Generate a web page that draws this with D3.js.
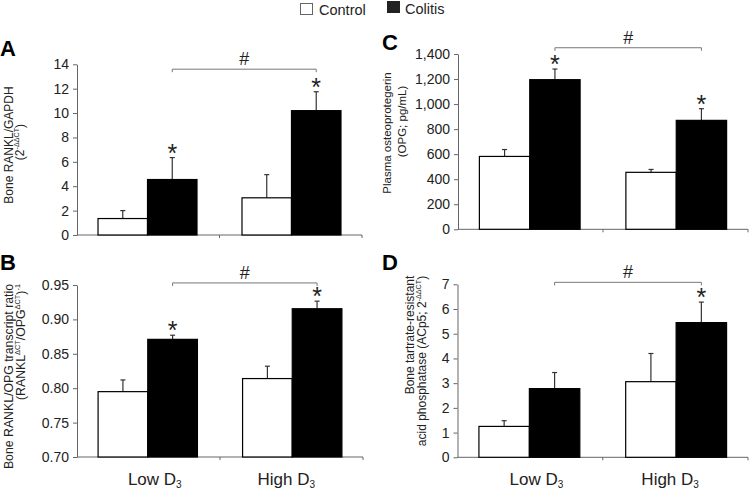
<!DOCTYPE html>
<html>
<head>
<meta charset="utf-8">
<script src="https://cdn.jsdelivr.net/npm/d3@7"></script>
<style>
  html, body { margin: 0; padding: 0; background: #fff; }
  svg { display: block; font-family: "Liberation Sans", Arial, Helvetica, sans-serif; }
</style>
</head>
<body>
<svg id="chart" width="750" height="490"></svg>
<script>
// ---------------- DATA ----------------
const groups = ["Low D3", "High D3"];
const seriesNames = ["Control", "Colitis"];

// Panel A: Bone RANKL/GAPDH (2^-ΔΔCT)
const ranklControl = [1.35, 3.05];
const ranklControlSem = [0.65, 1.9];
const ranklColitis = [4.55, 10.2];
const ranklColitisSem = [1.8, 1.55];
const ticksA = [0, 2, 4, 6, 8, 10, 12, 14];

// Panel B: Bone RANKL/OPG transcript ratio
const ratioControl = [0.795, 0.814];
const ratioControlSem = [0.017, 0.018];
const ratioColitis = [0.871, 0.9155];
const ratioColitisSem = [0.006, 0.011];
const ticksB = [0.70, 0.75, 0.80, 0.85, 0.90, 0.95];

// Panel C: Plasma osteoprotegerin (pg/mL)
const opgControl = [582, 455];
const opgControlSem = [55, 23];
const opgColitis = [1195, 870];
const opgColitisSem = [85, 93];
const ticksC = [0, 200, 400, 600, 800, 1000, 1200, 1400];

// Panel D: Bone TRAP (ACp5; 2^-ΔΔCT)
const acp5Control = [1.25, 3.06];
const acp5ControlSem = [0.23, 1.14];
const acp5Colitis = [2.78, 5.45];
const acp5ColitisSem = [0.65, 0.83];
const ticksD = [0, 1, 2, 3, 4, 5, 6, 7];

// significance markers (* on colitis bars per group)
const starsA = [true, true];
const starsB = [true, true];
const starsC = [true, true];
const starsD = [false, true];

// ---------------- LAYOUT ----------------
const svg = d3.select("#chart");
const axisColor = "#666";
const textColor = "#222";

const panels = [
  { id: "A", x0: 77, x1: 362, yB: 235, yT: 64.3, domain: [0, 14], ticks: ticksA, fmt: d3.format("d"),
    control: ranklControl, controlSem: ranklControlSem, colitis: ranklColitis, colitisSem: ranklColitisSem,
    stars: starsA, bracket: 13.6, showX: false,
    label: { x: 0, y: 56 },
    titles: [
      { x: 12.5, cy: 145, size: 12, parts: [["Bone RANKL/GAPDH", 0]] },
      { x: 24.2, cy: 142, size: 12, parts: [["(2", 0], ["-ΔΔCT", 1], [")", 0]] }
    ] },
  { id: "B", x0: 77, x1: 363, yB: 457, yT: 285, domain: [0.70, 0.95], ticks: ticksB, fmt: d3.format(".2f"),
    control: ratioControl, controlSem: ratioControlSem, colitis: ratioColitis, colitisSem: ratioColitisSem,
    stars: starsB, bracket: 0.953, showX: true,
    label: { x: 0, y: 269.5 },
    titles: [
      { x: 12.5, cy: 376.5, size: 12.3, parts: [["Bone RANKL/OPG transcript ratio", 0]] },
      { x: 24.5, cy: 342, size: 12.3, parts: [["(RANKL", 0], ["ΔCT", 1], ["/OPG", 0], ["ΔCT", 1], [")", 0], ["-1", 1]] }
    ] },
  { id: "C", x0: 458, x1: 748, yB: 229.3, yT: 54, domain: [0, 1400], ticks: ticksC, fmt: d3.format(","),
    control: opgControl, controlSem: opgControlSem, colitis: opgColitis, colitisSem: opgColitisSem,
    stars: starsC, bracket: 1450, showX: false,
    label: { x: 382, y: 50 },
    titles: [
      { x: 391, cy: 133, size: 11.5, parts: [["Plasma osteoprotegerin", 0]] },
      { x: 405.5, cy: 121.5, size: 11.5, parts: [["(OPG; pg/mL)", 0]] }
    ] },
  { id: "D", x0: 457.5, x1: 748, yB: 457.3, yT: 284.3, domain: [0, 7], ticks: ticksD, fmt: d3.format("d"),
    control: acp5Control, controlSem: acp5ControlSem, colitis: acp5Colitis, colitisSem: acp5ColitisSem,
    stars: starsD, bracket: 7.08, showX: true,
    label: { x: 382, y: 269.5 },
    titles: [
      { x: 413.5, cy: 335, size: 12, parts: [["Bone tartrate-resistant", 0]] },
      { x: 425.5, cy: 361, size: 12, parts: [["acid phosphatase  (ACp5; 2", 0], ["-ΔΔCT", 1], [")", 0]] }
    ] }
];

function drawPanel(p) {
  const g = svg.append("g");
  const y = d3.scaleLinear().domain(p.domain).range([p.yB, p.yT]);
  const x = d3.scaleBand().domain(groups).range([p.x0, p.x1]).paddingInner(0.3125).paddingOuter(0.146);
  const xs = d3.scaleBand().domain(seriesNames).range([0, x.bandwidth()]);

  // y axis
  const yAxis = d3.axisLeft(y).tickValues(p.ticks).tickFormat(p.fmt).tickSize(4).tickSizeOuter(0).tickPadding(4);
  const ya = g.append("g").attr("transform", `translate(${p.x0},0)`).call(yAxis);
  ya.select(".domain").attr("stroke", axisColor);
  ya.selectAll(".tick line").attr("stroke", axisColor);
  ya.selectAll(".tick text").attr("fill", textColor).style("font-size", "14px")
    .style("font-family", "'Liberation Sans', Arial, sans-serif");

  // x axis baseline with boundary ticks
  const mid = (x(groups[0]) + x.bandwidth() + x(groups[1])) / 2;
  g.append("line").attr("x1", p.x0).attr("x2", p.x1).attr("y1", p.yB).attr("y2", p.yB)
    .attr("stroke", axisColor).attr("stroke-width", 1);
  [mid, p.x1].forEach(tx => {
    g.append("line").attr("x1", tx).attr("x2", tx).attr("y1", p.yB).attr("y2", p.yB + 3)
      .attr("stroke", axisColor);
  });

  const rows = [];
  groups.forEach((grp, i) => {
    rows.push({ grp, s: "Control", v: p.control[i], e: p.controlSem[i], star: false });
    rows.push({ grp, s: "Colitis", v: p.colitis[i], e: p.colitisSem[i], star: p.stars[i] });
  });

  // error bars (upper only)
  rows.forEach(r => {
    const cx = x(r.grp) + xs(r.s) + xs.bandwidth() / 2;
    g.append("line").attr("x1", cx).attr("x2", cx).attr("y1", y(r.v)).attr("y2", y(r.v + r.e))
      .attr("stroke", "#333").attr("stroke-width", 1.2);
    g.append("line").attr("x1", cx - 2.5).attr("x2", cx + 2.5).attr("y1", y(r.v + r.e)).attr("y2", y(r.v + r.e))
      .attr("stroke", "#333").attr("stroke-width", 1.2);
  });

  // bars
  g.selectAll("rect.bar").data(rows).join("rect")
    .attr("class", "bar")
    .attr("x", d => x(d.grp) + xs(d.s))
    .attr("y", d => y(d.v))
    .attr("width", xs.bandwidth())
    .attr("height", d => y(p.domain[0]) - y(d.v))
    .attr("fill", d => d.s === "Control" ? "#fff" : "#000")
    .attr("stroke", "#000").attr("stroke-width", 1.2);

  // asterisks
  rows.filter(r => r.star).forEach(r => {
    const cx = x(r.grp) + xs(r.s) + xs.bandwidth() / 2;
    g.append("text").attr("x", cx).attr("y", y(r.v + r.e) + 4)
      .attr("text-anchor", "middle").attr("fill", textColor).style("font-size", "25px").text("*");
  });

  // bracket between colitis bars with #
  const bx1 = x(groups[0]) + xs("Colitis") + xs.bandwidth() / 2;
  const bx2 = x(groups[1]) + xs("Colitis") + xs.bandwidth() / 2;
  const by = y(p.bracket);
  g.append("path").attr("d", `M${bx1},${by + 3}V${by}H${bx2}V${by + 3}`)
    .attr("fill", "none").attr("stroke", "#777").attr("stroke-width", 1);
  g.append("text").attr("x", (bx1 + bx2) / 2).attr("y", by - 4).attr("text-anchor", "middle")
    .attr("fill", textColor).style("font-size", "18px").text("#");

  // x labels
  if (p.showX) {
    groups.forEach((grp, i) => {
      const cx = x(grp) + x.bandwidth() / 2 + (i === 0 ? 7 : -6);
      const t = g.append("text").attr("x", cx).attr("y", p.yB + 27.5).attr("text-anchor", "middle")
        .attr("fill", textColor).style("font-size", "17px");
      t.append("tspan").text(grp.replace("3", ""));
      t.append("tspan").attr("dy", 3).style("font-size", "10px").text("3");
    });
  }

  // y titles
  p.titles.forEach(tl => {
    const t = g.append("text").attr("transform", `translate(${tl.x},${tl.cy}) rotate(-90)`)
      .attr("text-anchor", "middle").attr("fill", textColor).style("font-size", tl.size + "px");
    let shifted = false;
    tl.parts.forEach(([txt, sup]) => {
      const ts = t.append("tspan").text(txt);
      if (sup && !shifted) { ts.attr("dy", -tl.size * 0.4).style("font-size", (tl.size * 0.6) + "px"); shifted = true; }
      else if (!sup && shifted) { ts.attr("dy", tl.size * 0.4); shifted = false; }
      else if (sup) { ts.style("font-size", (tl.size * 0.6) + "px"); }
    });
  });

  // panel letter
  svg.append("text").attr("x", p.label.x).attr("y", p.label.y).attr("fill", "#000")
    .style("font-size", "22px").style("font-weight", "bold").text(p.id);
}

panels.forEach(drawPanel);

// legend
const legend = svg.append("g");
legend.append("rect").attr("x", 300.5).attr("y", 3.5).attr("width", 12).attr("height", 11)
  .attr("fill", "#fff").attr("stroke", "#666");
legend.append("text").attr("x", 319).attr("y", 15).attr("fill", textColor).style("font-size", "14.5px").text(seriesNames[0]);
legend.append("rect").attr("x", 387).attr("y", 1).attr("width", 13).attr("height", 12).attr("fill", "#222");
legend.append("text").attr("x", 405).attr("y", 14).attr("fill", textColor).style("font-size", "14.5px").text(seriesNames[1]);
</script>
</body>
</html>
